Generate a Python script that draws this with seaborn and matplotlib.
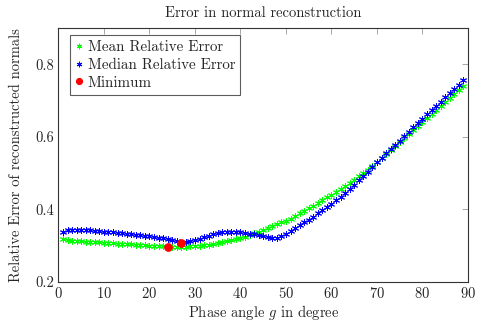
import numpy as np
import pandas as pd
import seaborn as sns
import matplotlib
matplotlib.use("Agg")
import matplotlib.pyplot as plt

angles = list(range(1, 90))
mean_err = [0.318, 0.315, 0.314, 0.313, 0.312, 0.311, 0.311, 0.310, 0.309, 0.308,
            0.308, 0.307, 0.306, 0.306, 0.305, 0.304, 0.303, 0.302, 0.301, 0.300,
            0.299, 0.298, 0.298, 0.297, 0.297, 0.297, 0.297, 0.297, 0.298, 0.299,
            0.300, 0.301, 0.303, 0.305, 0.307, 0.310, 0.312, 0.315, 0.318, 0.320,
            0.324, 0.329, 0.334, 0.339, 0.344, 0.349, 0.354, 0.359, 0.364, 0.369,
            0.375, 0.382, 0.389, 0.396, 0.403, 0.410, 0.418, 0.425, 0.433, 0.441,
            0.449, 0.457, 0.465, 0.473, 0.482, 0.491, 0.500, 0.510, 0.520, 0.531,
            0.542, 0.553, 0.564, 0.575, 0.586, 0.597, 0.608, 0.619, 0.630, 0.641,
            0.652, 0.663, 0.674, 0.685, 0.696, 0.707, 0.718, 0.729, 0.740]
median_err = [0.337, 0.342, 0.343, 0.343, 0.343, 0.342, 0.342, 0.341, 0.340, 0.339,
              0.338, 0.337, 0.335, 0.334, 0.333, 0.332, 0.330, 0.329, 0.327, 0.326,
              0.324, 0.322, 0.320, 0.318, 0.316, 0.312, 0.308, 0.309, 0.312, 0.315,
              0.319, 0.324, 0.328, 0.332, 0.335, 0.337, 0.338, 0.338, 0.338, 0.337,
              0.335, 0.333, 0.331, 0.329, 0.327, 0.325, 0.322, 0.320, 0.326, 0.333,
              0.340, 0.348, 0.356, 0.364, 0.372, 0.380, 0.389, 0.398, 0.407, 0.416,
              0.425, 0.434, 0.444, 0.456, 0.468, 0.480, 0.492, 0.504, 0.516, 0.530,
              0.543, 0.555, 0.566, 0.578, 0.590, 0.602, 0.614, 0.626, 0.638, 0.650,
              0.662, 0.673, 0.685, 0.697, 0.709, 0.720, 0.732, 0.744, 0.756]
min_x = [24, 27]
min_y = [0.297, 0.308]

x_ticks = [0, 10, 20, 30, 40, 50, 60, 70, 80, 90]
y_ticks = [0.2, 0.4, 0.6, 0.8]
y_tick_labels = ["0.2", "0.4", "0.6", "0.8"]

sns.set_style("white")
plt.rcParams["font.family"] = ["cmr10", "DejaVu Serif"]
plt.rcParams["mathtext.fontset"] = "cm"
plt.rcParams["axes.formatter.use_mathtext"] = True

df_mean = pd.DataFrame({"angle": angles, "err": mean_err})
df_med = pd.DataFrame({"angle": angles, "err": median_err})
df_min = pd.DataFrame({"angle": min_x, "err": min_y})

fig = plt.figure(figsize=(4.79, 3.23), dpi=100)
ax = fig.add_axes([0.122, 0.127, 0.855, 0.786])

ast = (6, 2, 0)
sns.lineplot(data=df_mean, x="angle", y="err", ax=ax, linestyle="none", marker=ast,
             markersize=5, markeredgewidth=0.7, color=(0, 1, 0), markeredgecolor=(0, 1, 0),
             label="Mean Relative Error")
sns.lineplot(data=df_med, x="angle", y="err", ax=ax, linestyle="none", marker=ast,
             markersize=5, markeredgewidth=0.7, color=(0, 0, 1), markeredgecolor=(0, 0, 1),
             label="Median Relative Error")
sns.lineplot(data=df_min, x="angle", y="err", ax=ax, linestyle="none", marker="o",
             markersize=5.5, color=(1, 0, 0), markeredgecolor=(1, 0, 0),
             label="Minimum")

ax.set_xlim(0, 90)
ax.set_ylim(0.2, 0.9)
ax.set_xticks(x_ticks)
ax.set_yticks(y_ticks)
ax.set_yticklabels(y_tick_labels)
ax.tick_params(direction="in", length=4, width=0.6, color="#999999",
               top=True, right=True, labelsize=10.5, pad=3)
for s in ax.spines.values():
    s.set_color("#333333")
    s.set_linewidth(0.8)

ax.set_xlabel("Phase angle $g$ in degree", fontsize=10.5, labelpad=1)
ax.set_ylabel("Relative Error of reconstructed normals", fontsize=10.5, labelpad=9)
ax.set_title("Error in normal reconstruction", fontsize=10.5, pad=8)

leg = ax.legend(loc="upper left", bbox_to_anchor=(0.029, 0.972), borderaxespad=0,
                fontsize=10.8, frameon=True, fancybox=False,
                edgecolor="#333333", handlelength=0.5,
                handletextpad=0.3, borderpad=0.35, labelspacing=0.27, markerscale=0.8)
leg.get_frame().set_linewidth(0.8)

fig.savefig("out.png", dpi=100)
